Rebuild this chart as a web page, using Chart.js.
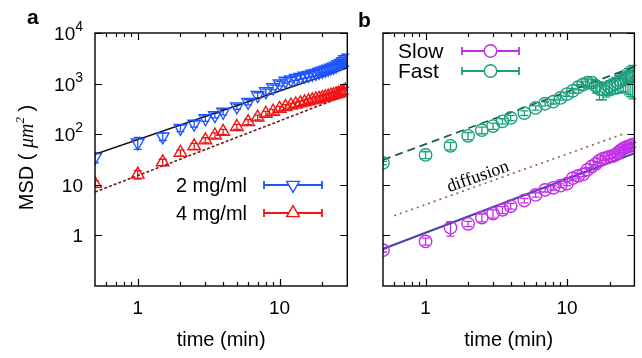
<!DOCTYPE html>
<html><head><meta charset="utf-8">
<script src="https://cdn.jsdelivr.net/npm/chart.js@4.4.0/dist/chart.umd.min.js"></script>
<style>
html,body{margin:0;padding:0;background:#fff;}
#wrap{position:relative;width:642px;height:358px;overflow:hidden;background:#fff;}
#cA{position:absolute;left:0;top:0;}
#cB{position:absolute;left:356px;top:0;}
</style></head><body>
<div id="wrap">
<canvas id="cA" width="356" height="358"></canvas>
<canvas id="cB" width="286" height="358"></canvas>
</div>
<script>
// ---------- data ----------
const times = [0.5,1,1.5,2,2.5,3,3.5,4,5,6,7,8,9,10,11,12,13,14,15,16,17,18,19,20,21,22,23,24,25,26,27,28,29];

const msd2mg = [35,68,90,132,160,205,235,275,350,430,590,700,840,1000,1130,1200,1280,1350,1420,1480,1550,1620,1700,1780,1860,1950,2050,2150,2250,2400,2550,2750,3000];
const err2mg = [8,18,15,20,22,25,25,35,40,50,70,80,90,100,110,120,130,140,150,160,170,180,190,200,220,240,260,280,300,350,450,600,800];

const msd4mg = [10.5,16,28,43,58,76,95,112,140,175,215,255,280,320,345,370,390,410,430,450,470,490,505,520,540,560,580,600,620,640,670,700,730];
const err4mg = [1.5,3,4,6,8,9,11,13,16,20,24,28,30,35,38,40,42,45,48,50,52,55,58,60,62,65,68,72,75,80,90,100,110];

const msdSlow = [0.51,0.76,1.42,1.69,2.25,2.7,3.2,3.8,4.9,6.3,7.9,8.7,9.6,10.5,13.5,15,16,20,23,26,30,33,34,36,37,39,43,48,52,55,57,59,62];
const errSlow = [0.04,0.12,0.45,0.2,0.4,0.5,0.5,0.5,0.5,0.6,0.7,0.8,0.8,0.9,1.2,1.4,1.5,1.8,2,2.3,2.6,3,3,3.2,3.4,3.6,4,4.5,5,5.5,6,6.5,7];

const msdFast = [27,39,59,93,120,145,180,210,262,330,400,440,520,620,720,850,960,1040,1050,900,780,760,800,860,920,980,1050,1120,1200,1250,1300,1350,1400];
const errFast = [2,6,10,15,18,20,22,25,28,32,38,45,50,60,80,100,120,150,180,250,300,280,260,280,300,350,400,450,500,600,700,800,900];

const fitTimes = [0.5, 30];
const fit2mg = [40, 2050];
const fit4mg = [7.2, 600];
const fitSlow = [0.54, 42];
const fitFast = [31, 2150];
const diffusionTimes = [0.6, 26];
const diffusionMsd = [2.45, 105];

const xTickValues = [1, 10];
const xTickLabels = ['1', '10'];
const yTickValues = [1, 10, 100, 1000, 10000];
const yTickLabels = [['1',''],['10',''],['10','2'],['10','3'],['10','4']];

const legendA = ['2 mg/ml', '4 mg/ml'];
const legendB = ['Slow', 'Fast'];

// ---------- helpers ----------
const SANS = '"Liberation Sans", Arial, Helvetica, sans-serif';
const SERIF = '"Liberation Serif", "Times New Roman", serif';
const pts = (xs, ys) => xs.map((x, i) => ({x: x, y: ys[i]}));

const BLUE = '#1f55ff', RED = '#f01414', MAG = '#c22ee6', TEAL = '#1aa07c';
const TRI_R = 7.3, CIR_R = 6.2;

function minorVals(min, max, majors){
  const out = [];
  for (let d = 0.1; d <= 100; d *= 10){
    for (let m = 1; m <= 9; m++){
      const v = +(m*d).toPrecision(6);
      if (v > min && v < max && !majors.includes(v)) out.push(v);
    }
  }
  return out;
}

const errPlugin = {
  id: 'errbars',
  beforeDatasetsDraw(chart){
    const ctx = chart.ctx, xs = chart.scales.x, ys = chart.scales.y, a = chart.chartArea;
    ctx.save();
    ctx.beginPath(); ctx.rect(a.left, a.top - 20, a.right - a.left + 4, a.bottom - a.top + 20); ctx.clip();
    chart.data.datasets.forEach(ds => {
      if (!ds.errs) return;
      ctx.strokeStyle = ds.borderColor; ctx.lineWidth = 1.3;
      ds.data.forEach((p, i) => {
        const e = ds.errs[i];
        const x = xs.getPixelForValue(p.x);
        const y1 = ys.getPixelForValue(p.y + e);
        const y2 = ys.getPixelForValue(Math.max(p.y - e, 1e-3));
        ctx.beginPath();
        ctx.moveTo(x, y1); ctx.lineTo(x, y2);
        ctx.moveTo(x - 4, y1); ctx.lineTo(x + 4, y1);
        ctx.moveTo(x - 4, y2); ctx.lineTo(x + 4, y2);
        ctx.stroke();
      });
    });
    ctx.restore();
  }
};

function drawLegendSample(ctx, x1, x2, y, color, style, rot){
  ctx.save();
  ctx.strokeStyle = color; ctx.lineWidth = 1.8;
  ctx.beginPath();
  ctx.moveTo(x1, y); ctx.lineTo(x2, y);
  ctx.moveTo(x1, y - 4); ctx.lineTo(x1, y + 4);
  ctx.moveTo(x2, y - 4); ctx.lineTo(x2, y + 4);
  ctx.stroke();
  ctx.fillStyle = '#fff';
  ctx.lineWidth = 1.4;
  Chart.helpers.drawPoint(ctx, {pointStyle: style, rotation: rot, radius: style === 'circle' ? CIR_R : TRI_R, borderWidth: 1.4}, (x1 + x2) / 2, y);
  ctx.restore();
}

function framePlugin(cfg){
  return {
    id: 'frame' + cfg.name,
    afterDraw(chart){
      const ctx = chart.ctx, xs = chart.scales.x, ys = chart.scales.y, a = chart.chartArea;
      ctx.save();
      ctx.strokeStyle = '#000'; ctx.lineWidth = 1.4;
      ctx.strokeRect(a.left, a.top, a.right - a.left, a.bottom - a.top);
      ctx.lineWidth = 1.2;
      ctx.beginPath();
      xTickValues.forEach(v => {
        const x = Math.round(xs.getPixelForValue(v)) + 0.5;
        ctx.moveTo(x, a.bottom); ctx.lineTo(x, a.bottom - 7);
        ctx.moveTo(x, a.top); ctx.lineTo(x, a.top + 7);
      });
      minorVals(xs.min, xs.max, xTickValues).forEach(v => {
        const x = Math.round(xs.getPixelForValue(v)) + 0.5;
        ctx.moveTo(x, a.bottom); ctx.lineTo(x, a.bottom - 4);
        ctx.moveTo(x, a.top); ctx.lineTo(x, a.top + 4);
      });
      yTickValues.forEach(v => {
        const y = Math.round(ys.getPixelForValue(v)) + 0.5;
        ctx.moveTo(a.left, y); ctx.lineTo(a.left + 7, y);
        ctx.moveTo(a.right, y); ctx.lineTo(a.right - 7, y);
      });
      ctx.stroke();

      // x tick labels
      ctx.fillStyle = '#000';
      ctx.font = '19px ' + SANS;
      ctx.textAlign = 'center'; ctx.textBaseline = 'alphabetic';
      xTickValues.forEach((v, i) => ctx.fillText(xTickLabels[i], xs.getPixelForValue(v), 314));
      // x title
      ctx.font = '20px ' + SANS;
      ctx.fillText('time (min)', (a.left + a.right) / 2, 346);

      // panel letter
      ctx.font = 'bold 21px ' + SANS;
      ctx.textAlign = 'left';
      ctx.fillText(cfg.letter, cfg.letterX, cfg.letterY);

      if (cfg.yLabels){
        yTickValues.forEach((v, i) => {
          const y = ys.getPixelForValue(v);
          const base = yTickLabels[i][0], sup = yTickLabels[i][1];
          ctx.font = '14px ' + SANS;
          const sw = sup ? ctx.measureText(sup).width : 0;
          const right = a.left - 12;
          ctx.textAlign = 'right';
          if (sup){ ctx.fillText(sup, right, y - 2); }
          ctx.font = '19px ' + SANS;
          ctx.fillText(base, right - sw, y + 7);
        });
        // y title: MSD ( μm² )
        ctx.save();
        ctx.translate(33, (a.top + a.bottom) / 2 - 2);
        ctx.rotate(-Math.PI / 2);
        const parts = [
          ['MSD ( ', '20px ' + SANS, 0],
          ['\u03bcm', 'italic 20px ' + SERIF, 0],
          ['2', 'italic 13px ' + SERIF, -9],
          [' )', '20px ' + SANS, 0]
        ];
        let total = 0;
        parts.forEach(p => { ctx.font = p[1]; total += ctx.measureText(p[0]).width; });
        let cx = -total / 2;
        ctx.textAlign = 'left';
        parts.forEach(p => { ctx.font = p[1]; ctx.fillText(p[0], cx, p[2]); cx += ctx.measureText(p[0]).width; });
        ctx.restore();
      }

      // legend
      cfg.legend.forEach((L, i) => {
        ctx.font = L.font;
        ctx.fillStyle = '#000';
        ctx.textAlign = L.align; ctx.textBaseline = 'middle';
        ctx.fillText(L.text, L.tx, L.y + 1);
        drawLegendSample(ctx, L.x1, L.x2, L.y, L.color, L.style, L.rot);
      });

      if (cfg.diffusion){
        const p1x = xs.getPixelForValue(diffusionTimes[0]), p1y = ys.getPixelForValue(diffusionMsd[0]);
        const p2x = xs.getPixelForValue(diffusionTimes[1]), p2y = ys.getPixelForValue(diffusionMsd[1]);
        const ang = Math.atan2(p2y - p1y, p2x - p1x);
        ctx.save();
        ctx.translate(122, 177);
        ctx.rotate(ang);
        ctx.font = '18px ' + SERIF;
        ctx.fillStyle = '#000';
        ctx.textAlign = 'center'; ctx.textBaseline = 'middle';
        ctx.fillText('diffusion', 0, 0);
        ctx.restore();
      }
      ctx.restore();
    }
  };
}

function baseOptions(padRight, yWidth){
  return {
    responsive: false, animation: false, events: [],
    layout: {padding: {left: 0, top: 33, right: padRight, bottom: 0}},
    plugins: {legend: {display: false}, tooltip: {enabled: false}},
    scales: {
      x: {type: 'logarithmic', min: 0.5, max: 30,
          grid: {display: false}, border: {display: false}, ticks: {display: false},
          afterFit: s => { s.height = 72; }},
      y: {type: 'logarithmic', min: 0.1, max: 10000,
          grid: {display: false}, border: {display: false}, ticks: {display: false},
          afterFit: s => { s.width = yWidth; }}
    }
  };
}

function scatterSet(ys, errs, color, style, rot, r){
  return {type: 'scatter', data: pts(times, ys), errs: errs,
    borderColor: color, backgroundColor: 'rgba(0,0,0,0)', pointStyle: style, pointRotation: rot,
    pointRadius: r, pointBorderWidth: 1.4, showLine: false, order: 1};
}
function lineSet(xs, ys, color, dash, w){
  return {type: 'scatter', data: pts(xs, ys), borderColor: color, borderWidth: w, borderDash: dash,
    showLine: true, pointRadius: 0, fill: false, order: 2};
}

// ---------- chart a ----------
new Chart(document.getElementById('cA'), {
  type: 'scatter',
  data: {datasets: [
    lineSet(fitTimes, fit2mg, '#1a0c0c', [], 1.6),
    lineSet(fitTimes, fit4mg, '#6e1a1a', [3, 2], 1.6),
    scatterSet(msd2mg, err2mg, BLUE, 'triangle', 180, TRI_R),
    scatterSet(msd4mg, err4mg, RED, 'triangle', 0, TRI_R)
  ]},
  options: baseOptions(8, 95),
  plugins: [errPlugin, framePlugin({
    name: 'A', letter: 'a', letterX: 27, letterY: 24, yLabels: true, diffusion: false,
    legend: [
      {text: legendA[0], font: '20px ' + SANS, align: 'right', tx: 247, y: 185, x1: 264, x2: 322, color: BLUE, style: 'triangle', rot: 180},
      {text: legendA[1], font: '20px ' + SANS, align: 'right', tx: 247, y: 213, x1: 264, x2: 322, color: RED, style: 'triangle', rot: 0}
    ]
  })]
});

// ---------- chart b ----------
new Chart(document.getElementById('cB'), {
  type: 'scatter',
  data: {datasets: [
    lineSet(fitTimes, fitFast, '#1d5a50', [8, 5], 1.7),
    lineSet(fitTimes, fitSlow, '#4848ac', [], 2),
    lineSet(diffusionTimes, diffusionMsd, '#a0605a', [2, 4], 1.7),
    scatterSet(msdSlow, errSlow, MAG, 'circle', 0, CIR_R),
    scatterSet(msdFast, errFast, TEAL, 'circle', 0, CIR_R)
  ]},
  options: baseOptions(5, 27),
  plugins: [errPlugin, framePlugin({
    name: 'B', letter: 'b', letterX: 2, letterY: 27, yLabels: false, diffusion: true,
    legend: [
      {text: legendB[0], font: '21px ' + SANS, align: 'left', tx: 42, y: 51, x1: 106, x2: 163, color: MAG, style: 'circle', rot: 0},
      {text: legendB[1], font: '21px ' + SANS, align: 'left', tx: 42, y: 71, x1: 106, x2: 163, color: TEAL, style: 'circle', rot: 0}
    ]
  })]
});
</script>
</body></html>
